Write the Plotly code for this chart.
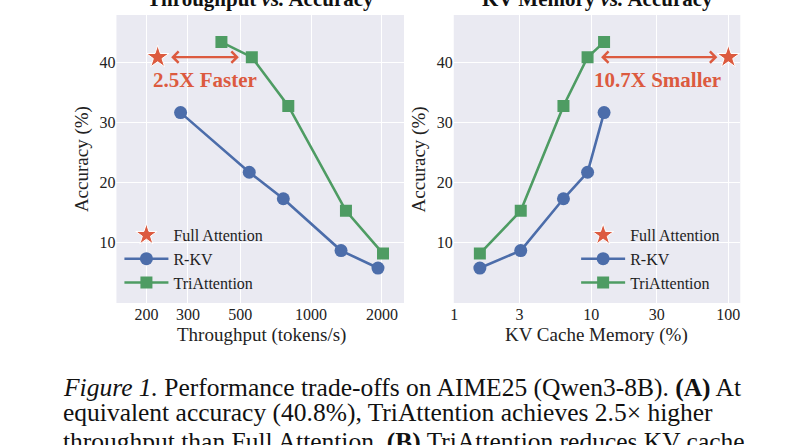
import math
import plotly.graph_objects as go

# ---------------- data ----------------
series_names = ["Full Attention", "R-KV", "TriAttention"]

full_throughput = [223]
full_memory = [100]
full_acc = [40.8]

rkv_throughput = [279, 546, 762, 1340, 1923]
rkv_memory = [12.4, 9.4, 6.27, 3.06, 1.54]
rkv_acc = [31.6, 21.7, 17.3, 8.7, 5.8]

tri_throughput = [416, 560, 800, 1406, 2020]
tri_memory = [12.4, 9.4, 6.27, 3.06, 1.54]
tri_acc = [43.3, 40.8, 32.7, 15.3, 8.2]

throughput_ticks = [200, 300, 500, 1000, 2000]
memory_ticks = [1, 3, 10, 30, 100]
acc_ticks = [10, 20, 30, 40]

speedup_label = "2.5X Faster"
memory_label = "10.7X Smaller"

caption_lines = [
    "<i>Figure 1.</i> Performance trade-offs on AIME25 (Qwen3-8B). <b>(A)</b> At",
    "equivalent accuracy (40.8%), TriAttention achieves 2.5\u00d7 higher",
    "throughput than Full Attention. <b>(B)</b> TriAttention reduces KV cache",
]

# ---------------- style ----------------
W, H = 800, 445
SERIF = "Liberation Serif, Times New Roman, serif"
BLUE = "#4C6DAA"
GREEN = "#4E9C63"
RED = "#DC5A3F"
BG = "#EAEAF2"

fig = go.Figure()

def add_panel(xs_full, xs_rkv, xs_tri, xaxis, legend):
    yaxis = xaxis.replace("x", "y")
    fig.add_trace(go.Scatter(
        x=xs_full, y=full_acc, mode="markers", name=series_names[0],
        marker=dict(symbol="star", size=17, color=RED, line=dict(color="white", width=1)),
        xaxis=xaxis, yaxis=yaxis, legend=legend))
    fig.add_trace(go.Scatter(
        x=xs_rkv, y=rkv_acc, mode="lines+markers", name=series_names[1],
        line=dict(color=BLUE, width=2.6),
        marker=dict(symbol="circle", size=13, color=BLUE),
        xaxis=xaxis, yaxis=yaxis, legend=legend))
    fig.add_trace(go.Scatter(
        x=xs_tri, y=tri_acc, mode="lines+markers", name=series_names[2],
        line=dict(color=GREEN, width=2.6),
        marker=dict(symbol="square", size=12, color=GREEN),
        xaxis=xaxis, yaxis=yaxis, legend=legend))

add_panel(full_throughput, rkv_throughput, tri_throughput, "x", "legend")
add_panel(full_memory, rkv_memory, tri_memory, "x2", "legend2")

px_to_x = lambda p: p / W
px_to_y = lambda p: 1 - p / H

left_dom = [px_to_x(113), px_to_x(402)]
right_dom = [px_to_x(452), px_to_x(740)]
y_dom = [px_to_y(303), px_to_y(15)]

axis_common = dict(
    showgrid=True, gridcolor="white", gridwidth=1.4, zeroline=False,
    showline=False, ticks="", tickfont=dict(family=SERIF, size=16, color="#222"),
)

legend_common = dict(xanchor="left", yanchor="top", bgcolor="rgba(0,0,0,0)",
                     font=dict(family=SERIF, size=16, color="#222"),
                     itemwidth=44, tracegroupgap=0)

fig.update_layout(
    width=W, height=H,
    margin=dict(l=0, r=0, t=0, b=0),
    paper_bgcolor="white", plot_bgcolor=BG,
    font=dict(family=SERIF, color="#222"),
    xaxis=dict(domain=left_dom, type="log", range=[math.log10(149), math.log10(2480)],
               tickvals=throughput_ticks, ticktext=[str(v) for v in throughput_ticks],
               anchor="y", **axis_common),
    yaxis=dict(domain=y_dom, range=[0, 47.8], tickvals=acc_ticks, anchor="x", **axis_common),
    xaxis2=dict(domain=right_dom, type="log", range=[-0.003, 2.087],
                tickvals=memory_ticks, ticktext=[str(v) for v in memory_ticks],
                anchor="y2", **axis_common),
    yaxis2=dict(domain=y_dom, range=[0, 47.8], tickvals=acc_ticks, anchor="x2", **axis_common),
    legend=dict(x=px_to_x(116), y=px_to_y(218), **legend_common),
    legend2=dict(x=px_to_x(575), y=px_to_y(218), **legend_common),
    showlegend=True,
)

ann = []
# panel titles (partially cut at the top of the picture)
for dom, txt in [(left_dom, "<b>Throughput <i>vs.</i> Accuracy</b>"),
                 (right_dom, "<b>KV Memory <i>vs.</i> Accuracy</b>")]:
    ann.append(dict(text=txt, x=sum(dom) / 2, y=px_to_y(-1),
                    xref="paper", yref="paper", showarrow=False, xanchor="center", yanchor="middle",
                    font=dict(family=SERIF, size=21, color="#111")))
# axis titles
for xc, txt in [(258.5, "Throughput (tokens/s)"), (595.5, "KV Cache Memory (%)")]:
    ann.append(dict(text=txt, x=px_to_x(xc), y=px_to_y(335), xref="paper", yref="paper",
                    showarrow=False, xanchor="center", yanchor="middle",
                    font=dict(family=SERIF, size=19, color="#222")))
for xc in [78, 417]:
    ann.append(dict(text="Accuracy (%)", x=px_to_x(xc), y=px_to_y(159.5), xref="paper", yref="paper",
                    showarrow=False, textangle=-90, xanchor="center", yanchor="middle",
                    font=dict(family=SERIF, size=19, color="#222")))

# double-headed arrows between Full Attention and TriAttention at equal accuracy
tri_idx = tri_acc.index(full_acc[0])
arrow_style = dict(showarrow=True, arrowhead=4, startarrowhead=4, arrowside="end+start",
                   arrowsize=1.0, startarrowsize=1.0, arrowwidth=2.2, arrowcolor=RED, text="")
ann.append(dict(x=math.log10(tri_throughput[tri_idx]), y=full_acc[0],
                ax=math.log10(full_throughput[0]), ay=full_acc[0],
                xref="x", yref="y", axref="x", ayref="y",
                standoff=13, startstandoff=12, **arrow_style))
ann.append(dict(x=math.log10(full_memory[0]), y=full_acc[0],
                ax=math.log10(tri_memory[tri_idx]), ay=full_acc[0],
                xref="x2", yref="y2", axref="x2", ayref="y2",
                standoff=11, startstandoff=12, **arrow_style))
ann.append(dict(text="<b>" + speedup_label + "</b>",
                x=(math.log10(full_throughput[0]) + math.log10(tri_throughput[tri_idx])) / 2,
                y=full_acc[0], xref="x", yref="y", yshift=-23, showarrow=False,
                font=dict(family=SERIF, size=21, color=RED)))
ann.append(dict(text="<b>" + memory_label + "</b>",
                x=(math.log10(full_memory[0]) + math.log10(tri_memory[tri_idx])) / 2,
                y=full_acc[0], xref="x2", yref="y2", yshift=-23, showarrow=False,
                font=dict(family=SERIF, size=21, color=RED)))

# caption
caption_y = [387, 412, 441]
for line, yc in zip(caption_lines, caption_y):
    ann.append(dict(text=line, x=px_to_x(57), y=px_to_y(yc), xref="paper", yref="paper",
                    showarrow=False, xanchor="left", yanchor="middle",
                    font=dict(family=SERIF, size=25.5, color="#111")))

fig.update_layout(annotations=ann)
fig.write_html("out.html")
